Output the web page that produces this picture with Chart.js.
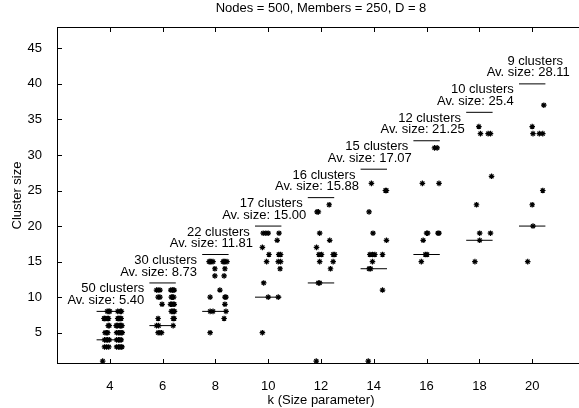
<!DOCTYPE html>
<html><head><meta charset="utf-8">
<script src="https://cdn.jsdelivr.net/npm/chart.js@4/dist/chart.umd.min.js"></script>
<style>html,body{margin:0;padding:0;overflow:hidden;background:#fff}#wrap{width:600px;height:408px}</style>
</head><body><div id="wrap"><canvas id="c" width="600" height="408"></canvas></div>
<script>
// ---- data ----
const kValues = [4, 6, 8, 10, 12, 14, 16, 18, 20];
const clusterCounts = [50, 30, 22, 17, 16, 15, 12, 10, 9];
const avgSizes = ["5.40", "8.73", "11.81", "15.00", "15.88", "17.07", "21.25", "25.4", "28.11"];
const xTickValues = [4, 6, 8, 10, 12, 14, 16, 18, 20];
const yTickValues = [5, 10, 15, 20, 25, 30, 35, 40, 45];

// cluster sizes per k and the small horizontal jitter of each point (in k units)
const sizesK4 = [8,8,8,8,8,8, 7,7,7,7,7,7,7,7,7,7, 6,6,6,6,6,6,6,6,6, 5,5,5,5,5,5,5,5, 4,4,4,4,4,4,4,4, 3,3,3,3,3,3,3,3, 1];
const jitterK4 = [-0.04,0.40,-0.10,0.30,0.44,0.00, -0.20,-0.08,0.30,0.43,-0.15,0.36,-0.22,0.40,-0.05,0.33, -0.02,0.24,0.43,0.30,0.38,0.46,-0.06,0.27,0.40, -0.12,0.26,0.43,-0.18,0.33,0.38,-0.08,0.47, -0.20,-0.08,0.26,0.43,-0.14,0.33,0.38,-0.02, -0.20,-0.04,0.26,0.43,-0.12,0.33,0.38,0.46, -0.27];
const sizesK6 = [11,11,11,11,11,11,11, 10,10,10,10,10, 9,9,9,9,9, 8,8,8,8, 7,7,7, 6,6,6, 5,5,5];
const jitterK6 = [-0.23,-0.10,0.31,0.44,-0.17,0.37,0.40, -0.17,0.37,-0.10,0.42,0.33, -0.02,0.34,0.44,0.40,0.30, 0.37,0.42,0.45,0.33, -0.17,0.44,0.40, -0.23,0.40,-0.15, -0.17,-0.04,-0.10];
const sizesK8 = [15,15,15,15,15,15,15,15, 14,14, 13,13, 11, 10,10,10, 9, 8,8,8, 7, 5];
const jitterK8 = [-0.24,-0.16,-0.09,0.29,0.37,0.44,-0.20,0.33, -0.02,0.36, -0.02,0.33, 0.17, -0.20,0.36,0.40, 0.36, -0.20,-0.09,0.40, 0.33, -0.20];
const sizesK10 = [19,19,19,19, 18, 17, 16,16,16, 15,15,15, 14, 12, 10,10, 5];
const jitterK10 = [-0.19,-0.09,0.00,0.41, 0.34, -0.22, 0.03,0.47,0.40, -0.06,0.38,0.47, 0.45, -0.17, 0.00,0.38, -0.22];
const sizesK12 = [23, 22,22, 19, 18, 17, 16,16,16,16, 15,15, 14, 12,12, 1];
const jitterK12 = [0.31, -0.15,-0.10, -0.05, 0.33, -0.17, 0.02,0.46,0.52,-0.08, -0.05,0.46, 0.36, -0.10,-0.05, -0.18];
const sizesK14 = [26, 25,25, 22, 19, 18, 16,16,16,16, 15, 14,14, 11, 1];
const jitterK14 = [-0.09, 0.48,0.44, -0.18, -0.03, 0.48, -0.15,-0.05,0.04,0.33, -0.05, -0.18,-0.12, 0.33, -0.21];
const sizesK16 = [31,31, 26,26, 19,19,19,19, 18, 16,16, 15];
const jitterK16 = [0.30,0.40, -0.16,0.47, 0.00,0.04,0.43,0.47, -0.13, 0.02,-0.05, -0.20];
const sizesK18 = [34, 33,33,33, 27, 23, 19,19, 18, 15];
const jitterK18 = [-0.02, 0.04,0.33,0.42, 0.46, -0.11, 0.01,0.42, 0.01, -0.17];
const sizesK20 = [37, 34, 33,33,33, 25, 23, 20, 15];
const jitterK20 = [0.44, 0.00, 0.03,0.27,0.40, 0.40, 0.00, 0.03, -0.17];

const groupSizes = [sizesK4, sizesK6, sizesK8, sizesK10, sizesK12, sizesK14, sizesK16, sizesK18, sizesK20];
const groupJitter = [jitterK4, jitterK6, jitterK8, jitterK10, jitterK12, jitterK14, jitterK16, jitterK18, jitterK20];

// ---- build datasets ----
const FONT = 'Liberation Sans, Arial, Helvetica, sans-serif';
const points = [];
kValues.forEach((k, i) => {
  groupSizes[i].forEach((s, j) => points.push({x: k + groupJitter[i][j], y: s}));
});
const datasets = [{
  type: 'scatter', data: points, pointStyle: 'star', pointRadius: 2.8,
  borderColor: '#000', backgroundColor: '#000', borderWidth: 1.2, showLine: false
}];
kValues.forEach(k => {
  [k, 2 * k].forEach(level => {
    datasets.push({
      type: 'scatter', showLine: true, data: [{x: k - 0.5, y: level}, {x: k + 0.5, y: level}],
      borderColor: '#000', borderWidth: 1, pointRadius: 0
    });
  });
});

const framePlugin = {
  id: 'frame',
  afterDraw(chart) {
    const ctx = chart.ctx, a = chart.chartArea;
    const xs = chart.scales.x, ys = chart.scales.y;
    ctx.save();
    ctx.strokeStyle = '#000'; ctx.lineWidth = 1;
    ctx.strokeRect(Math.round(a.left) + 0.5, Math.round(a.top) + 0.5, Math.round(a.right - a.left), Math.round(a.bottom - a.top) - 1);
    ctx.beginPath();
    const L = 5;
    xTickValues.forEach(v => {
      const x = Math.round(xs.getPixelForValue(v)) + 0.5;
      ctx.moveTo(x, a.bottom); ctx.lineTo(x, a.bottom - L);
      ctx.moveTo(x, a.top); ctx.lineTo(x, a.top + L);
    });
    yTickValues.forEach(v => {
      const y = Math.round(ys.getPixelForValue(v)) + 0.5;
      ctx.moveTo(a.left, y); ctx.lineTo(a.left + L, y);
      ctx.moveTo(a.right, y); ctx.lineTo(a.right - L, y);
    });
    ctx.stroke();
    ctx.restore();
  }
};

const labelPlugin = {
  id: 'clusterLabels',
  afterDatasetsDraw(chart) {
    const ctx = chart.ctx, xs = chart.scales.x, ys = chart.scales.y;
    ctx.save();
    ctx.fillStyle = '#000';
    ctx.font = '13px ' + FONT;
    ctx.textAlign = 'center';
    ctx.textBaseline = 'middle';
    kValues.forEach((k, i) => {
      const x = xs.getPixelForValue(k), y = ys.getPixelForValue(2 * k);
      ctx.fillText(clusterCounts[i] + ' clusters', x + 3, y - 22.5);
      ctx.fillText('Av. size: ' + avgSizes[i], x - 4, y - 11);
    });
    ctx.restore();
  }
};

new Chart(document.getElementById('c'), {
  type: 'scatter',
  data: {datasets},
  options: {
    responsive: false, animation: false, events: [],
    layout: {padding: {left: 0, right: 15, top: 0, bottom: 0}},
    plugins: {
      legend: {display: false}, tooltip: {enabled: false},
      title: {display: true, text: 'Nodes = 500, Members = 250, D = 8', fullSize: false, color: '#000',
        font: {family: FONT, size: 13, weight: 'normal'}, padding: {top: 1, bottom: 10.4}}
    },
    scales: {
      x: {
        type: 'linear', min: 2, max: 22,
        afterBuildTicks: s => { s.ticks = xTickValues.map(v => ({value: v})); },
        afterFit: s => { s.height = 44; },
        grid: {display: false}, border: {display: false},
        ticks: {color: '#000', font: {family: FONT, size: 13}, padding: 7, maxRotation: 0},
        title: {display: true, text: 'k (Size parameter)', color: '#000', font: {family: FONT, size: 13}, padding: {top: 2, bottom: 0}}
      },
      y: {
        type: 'linear', min: 0.6, max: 48,
        afterBuildTicks: s => { s.ticks = yTickValues.map(v => ({value: v})); },
        afterFit: s => { s.width = 57; },
        grid: {display: false}, border: {display: false},
        ticks: {color: '#000', font: {family: FONT, size: 13}, padding: 7},
        title: {display: true, text: 'Cluster size', color: '#000', font: {family: FONT, size: 13}, padding: {top: 10, bottom: 0}}
      }
    }
  },
  plugins: [framePlugin, labelPlugin]
});
</script></body></html>
